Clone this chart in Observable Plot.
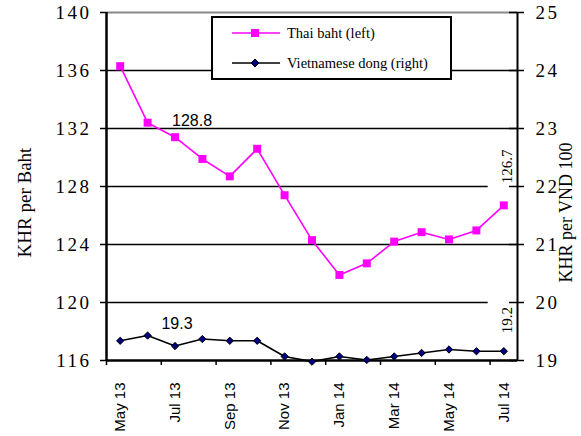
<!DOCTYPE html>
<html><head><meta charset="utf-8">
<script src="https://cdn.jsdelivr.net/npm/d3@7"></script>
<script src="https://cdn.jsdelivr.net/npm/@observablehq/plot@0.6"></script>
<style>
body{margin:0;background:#fff;}
#wrap{position:relative;width:581px;height:436px;}
#legend{position:absolute;left:0;top:0;pointer-events:none;}
</style>
</head><body>
<div id="wrap"></div>
<script>
const months = ["May 13","Jun 13","Jul 13","Aug 13","Sep 13","Oct 13","Nov 13","Dec 13","Jan 14","Feb 14","Mar 14","Apr 14","May 14","Jun 14","Jul 14"];
const thaiBaht = [136.3,132.4,131.4,129.9,128.7,130.6,127.4,124.3,121.9,122.7,124.2,124.85,124.35,124.97,126.7];
const vndDong = [19.34,19.43,19.25,19.37,19.34,19.34,19.07,18.98,19.07,19.01,19.07,19.13,19.19,19.16,19.16];
const leftTicks = [116,120,124,128,132,136,140];
const rightTicks = [19,20,21,22,23,24,25];
const seriesNames = ["Thai baht (left)","Vietnamese dong (right)"];
const leftTitle = "KHR per Baht";
const rightTitle = "KHR per VND 100";
const annotationText = ["128.8","19.3","126.7","19.2"];

const PINK = "#ff00ff", NAVY = "#000080";
const SERIF = "'Liberation Serif','Times New Roman',Times,serif";
const SANS = "'Liberation Sans',Arial,sans-serif";

// right axis (19..25) mapped onto left scale (116..140)
const toLeft = v => leftTicks[0] + (v - rightTicks[0]) * (leftTicks[leftTicks.length-1]-leftTicks[0])/(rightTicks[rightTicks.length-1]-rightTicks[0]);
const fromLeft = y => rightTicks[0] + (y - leftTicks[0]) * (rightTicks[rightTicks.length-1]-rightTicks[0])/(leftTicks[leftTicks.length-1]-leftTicks[0]);

const baht = months.map((m,i)=>({i, m, v: thaiBaht[i]}));
const dong = months.map((m,i)=>({i, m, v: toLeft(vndDong[i]), raw: vndDong[i]}));

const n = months.length;
const xTickPos = months.map((m,i)=>i-0.5).filter((_,i)=>i%2===0);
const xLabelPos = months.map((m,i)=>i).filter(i=>i%2===0);
const gridFull = [136,132,124];
const gridShort = [128,120];
const shortEnd = n - 1.57;

const chart = Plot.plot({
  width: 581, height: 436,
  marginLeft: 106, marginRight: 64, marginTop: 12, marginBottom: 76,
  x: {domain: [-0.5, n-0.5]},
  y: {domain: [leftTicks[0], leftTicks[leftTicks.length-1]]},
  style: {background: "white", overflow: "visible"},
  marks: [
    Plot.ruleY([leftTicks[leftTicks.length-1]], {stroke: "#888", strokeWidth: 2}),
    Plot.ruleY(gridFull, {stroke: "#000", strokeWidth: 1.5}),
    Plot.ruleY(gridShort, {x1: -0.5, x2: shortEnd, stroke: "#000", strokeWidth: 1.5}),
    Plot.ruleY([leftTicks[0]], {stroke: "#000", strokeWidth: 2.5}),
    Plot.ruleX([-0.5], {stroke: "#000", strokeWidth: 2.5}),
    Plot.ruleX([n-0.5], {stroke: "#000", strokeWidth: 2}),
    // left axis
    Plot.axisY(leftTicks, {anchor: "left", tickSize: 6, tickPadding: 9, fontSize: 19, fontFamily: SERIF, fill: "#000", label: null, strokeWidth: 1.5}),
    // right axis ticks (crossing)
    Plot.axisY(rightTicks.map(toLeft), {anchor: "right", tickSize: 15, dx: -9, tickFormat: () => "", label: null, strokeWidth: 1.5}),
    Plot.axisY(rightTicks.map(toLeft), {anchor: "right", tickSize: 0, tickPadding: 18, tickFormat: d => String(Math.round(fromLeft(d))), fontSize: 19, fontFamily: SERIF, fill: "#000", label: null}),
    // x axis
    Plot.axisX(xTickPos, {anchor: "bottom", tickSize: 5, tickFormat: () => "", label: null, strokeWidth: 1.5}),
    Plot.axisX(xLabelPos, {anchor: "bottom", tickSize: 0, tickPadding: 22, tickRotate: -90, tickFormat: i => months[i], fontSize: 15, fontFamily: SANS, fill: "#000", label: null}),
    // series
    Plot.line(baht, {x: "i", y: "v", stroke: PINK, strokeWidth: 1.6}),
    Plot.dot(baht, {x: "i", y: "v", symbol: "square", r: 4.5, fill: PINK, stroke: "none"}),
    Plot.line(dong, {x: "i", y: "v", stroke: "#000", strokeWidth: 1.6}),
    Plot.dot(dong, {x: "i", y: "v", symbol: "diamond2", r: 3.3, fill: NAVY, stroke: "#000", strokeWidth: 1}),
    // annotations
    Plot.text([baht[2]], {x: "i", y: "v", text: () => annotationText[0], dx: 17, dy: -16, fontSize: 16, fontFamily: SANS, fill: "#000"}),
    Plot.text([dong[2]], {x: "i", y: "v", text: () => annotationText[1], dx: 2, dy: -22, fontSize: 16, fontFamily: SANS, fill: "#000"}),
    Plot.text([baht[n-1]], {x: "i", y: "v", text: () => annotationText[2], dx: 3, dy: -39, rotate: -90, fontSize: 15, fontFamily: SERIF, fill: "#000"}),
    Plot.text([dong[n-1]], {x: "i", y: "v", text: () => annotationText[3], dx: 3, dy: -31, rotate: -90, fontSize: 15, fontFamily: SERIF, fill: "#000"}),
    // axis titles
    Plot.text([leftTitle], {frameAnchor: "left", textAnchor: "middle", text: d => d, dx: -82, dy: 16, rotate: -90, fontSize: 19, fontFamily: SERIF, fill: "#000"}),
    Plot.text([rightTitle], {frameAnchor: "right", textAnchor: "middle", text: d => d, dx: 49, dy: 26, rotate: -90, fontSize: 18, fontFamily: SERIF, fill: "#000"})
  ]
});

chart.querySelectorAll('g[aria-label="y-axis tick label"]').forEach(g => {
  g.style.letterSpacing = "2.5px";
  g.style.fontFamily = SERIF;
});
document.getElementById("wrap").appendChild(chart);

// legend overlay
const lg = d3.select("#wrap").append("svg").attr("id","legend").attr("width",581).attr("height",436);
lg.append("rect").attr("x",212).attr("y",17).attr("width",239).attr("height",62)
  .attr("fill","#fff").attr("stroke","#000").attr("stroke-width",2);
const rows = [
  {name: seriesNames[0], y: 33, stroke: PINK, marker: "square", fill: PINK},
  {name: seriesNames[1], y: 63, stroke: "#000", marker: "diamond", fill: NAVY}
];
rows.forEach(r => {
  lg.append("line").attr("x1",232).attr("x2",280).attr("y1",r.y).attr("y2",r.y).attr("stroke",r.stroke).attr("stroke-width",1.6);
  if (r.marker === "square") {
    lg.append("rect").attr("x",251).attr("y",r.y-4).attr("width",8).attr("height",8).attr("fill",r.fill);
  } else {
    lg.append("path").attr("d",`M255,${r.y-4}L259,${r.y}L255,${r.y+4}L251,${r.y}Z`).attr("fill",r.fill).attr("stroke","#000").attr("stroke-width",1);
  }
  lg.append("text").attr("x",287).attr("y",r.y).attr("dy","0.35em").attr("font-family",SERIF).attr("font-size",14.5).attr("fill","#000").text(r.name);
});
</script>
</body></html>
